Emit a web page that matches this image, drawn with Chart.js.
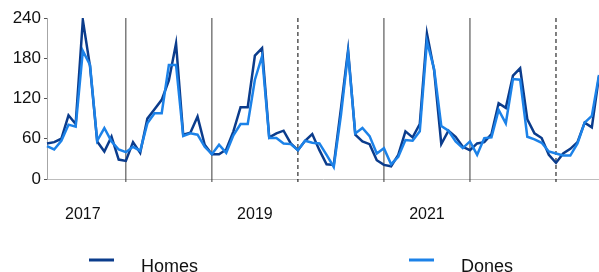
<!DOCTYPE html>
<html>
<head>
<meta charset="utf-8">
<script src="https://cdn.jsdelivr.net/npm/chart.js@4/dist/chart.umd.min.js"></script>
<style>
  html, body { margin: 0; padding: 0; background: #fff; }
  #wrap { position: relative; width: 599px; height: 272px; }
</style>
</head>
<body>
<div id="wrap"><canvas id="chart"></canvas></div>
<script>
// Monthly series, Jan 2017 .. Jun 2023
const firstYear = 2017;
const monthCount = 78;

const homes = [
  53, 55, 60, 95, 82, 237, 168, 56, 41, 63, 29, 27,
  55, 39, 90, 104, 118, 147, 202, 66, 69, 93, 51, 37,
  37, 44, 71, 107, 107, 184, 195, 62, 68, 72, 53, 43,
  57, 67, 43, 22, 21, 105, 192, 66, 56, 52, 28, 21,
  19, 36, 71, 62, 82, 217, 162, 52, 72, 63, 48, 43,
  53, 55, 67, 113, 106, 154, 165, 89, 68, 61, 36, 24,
  38, 45, 55, 84, 77, 153
];

const dones = [
  49, 44, 57, 81, 78, 191, 170, 57, 76, 56, 44, 40,
  48, 42, 83, 98, 98, 170, 170, 64, 68, 66, 48, 37,
  51, 39, 65, 82, 82, 148, 183, 61, 61, 53, 52, 43,
  57, 54, 53, 36, 18, 95, 188, 68, 76, 64, 38, 46,
  22, 33, 58, 57, 71, 205, 164, 79, 72, 56, 46, 56,
  36, 61, 62, 103, 83, 149, 148, 63, 59, 54, 41, 38,
  35, 35, 53, 84, 94, 155
];

// year labels sit on June of odd years
const yearTickIndex = [5, 29, 53];
const yearTickLabels = ["2017", "2019", "2021"];

// year-end markers (December), some dashed
const yearBreaks = [11, 23, 35, 47, 59, 71];
const dashedBreaks = [35, 71];

const months = [];
for (let i = 0; i < monthCount; i++) {
  const y = firstYear + Math.floor(i / 12);
  const m = (i % 12) + 1;
  months.push(y + "-" + String(m).padStart(2, "0"));
}

const FONT = "'Liberation Sans', Arial, sans-serif";

// vertical year-end lines under the data
const yearLines = {
  id: "yearLines",
  beforeDatasetsDraw(chart) {
    const { ctx, chartArea, scales } = chart;
    ctx.save();
    ctx.lineWidth = 1;
    yearBreaks.forEach(idx => {
      const x = scales.x.getPixelForValue(idx);
      const dashed = dashedBreaks.includes(idx);
      ctx.strokeStyle = dashed ? "#000" : "#3a3a3a";
      ctx.setLineDash(dashed ? [4, 3] : []);
      ctx.beginPath();
      ctx.moveTo(x, chartArea.top);
      ctx.lineTo(x, chartArea.bottom + 3);
      ctx.stroke();
    });
    ctx.restore();
  }
};

// legend spread along the bottom edge
const bottomLegend = {
  id: "bottomLegend",
  afterDraw(chart) {
    const ctx = chart.ctx;
    const startX = [89, 409];
    ctx.save();
    chart.data.datasets.forEach((ds, k) => {
      const x = startX[k];
      ctx.strokeStyle = ds.borderColor;
      ctx.lineWidth = 3;
      ctx.beginPath();
      ctx.moveTo(x, 260);
      ctx.lineTo(x + 25, 260);
      ctx.stroke();
      ctx.fillStyle = "#111";
      ctx.font = "18px " + FONT;
      ctx.textBaseline = "alphabetic";
      ctx.fillText(ds.label, x + 52, 272);
    });
    ctx.restore();
  }
};

new Chart(document.getElementById("chart"), {
  type: "line",
  data: {
    labels: months,
    datasets: [
      {
        label: "Homes",
        data: homes,
        borderColor: "#0b3c8c",
        borderWidth: 2.5,
        pointRadius: 0,
        tension: 0,
        order: 2
      },
      {
        label: "Dones",
        data: dones,
        borderColor: "#1c82e8",
        borderWidth: 2.5,
        pointRadius: 0,
        tension: 0,
        order: 1
      }
    ]
  },
  options: {
    responsive: true,
    maintainAspectRatio: false,
    animation: false,
    layout: { padding: { top: 18, right: 0, left: 0, bottom: 0 } },
    scales: {
      x: {
        // invisible long ticks push the year labels down without side padding
        grid: {
          display: true,
          drawOnChartArea: false,
          drawTicks: true,
          tickLength: 26,
          tickColor: "rgba(0,0,0,0)"
        },
        border: { display: true, color: "#bdbdbd", width: 1 },
        ticks: {
          autoSkip: false,
          maxRotation: 0,
          padding: 0,
          color: "#111",
          font: { size: 16, family: FONT },
          callback: (val, idx) => {
            const k = yearTickIndex.indexOf(idx);
            return k >= 0 ? yearTickLabels[k] : "";
          }
        },
        afterFit: scale => { scale.height = 93; }
      },
      y: {
        min: 0,
        max: 240,
        grid: {
          drawOnChartArea: false,
          drawTicks: true,
          tickLength: 3,
          tickColor: "#555"
        },
        border: { display: true, color: "#a6a6a6", width: 1 },
        ticks: {
          stepSize: 60,
          padding: 3,
          color: "#111",
          font: { size: 17, family: FONT }
        },
        afterFit: scale => { scale.width = 47; }
      }
    },
    plugins: {
      legend: { display: false },
      tooltip: { enabled: false }
    }
  },
  plugins: [yearLines, bottomLegend]
});
</script>
</body>
</html>
